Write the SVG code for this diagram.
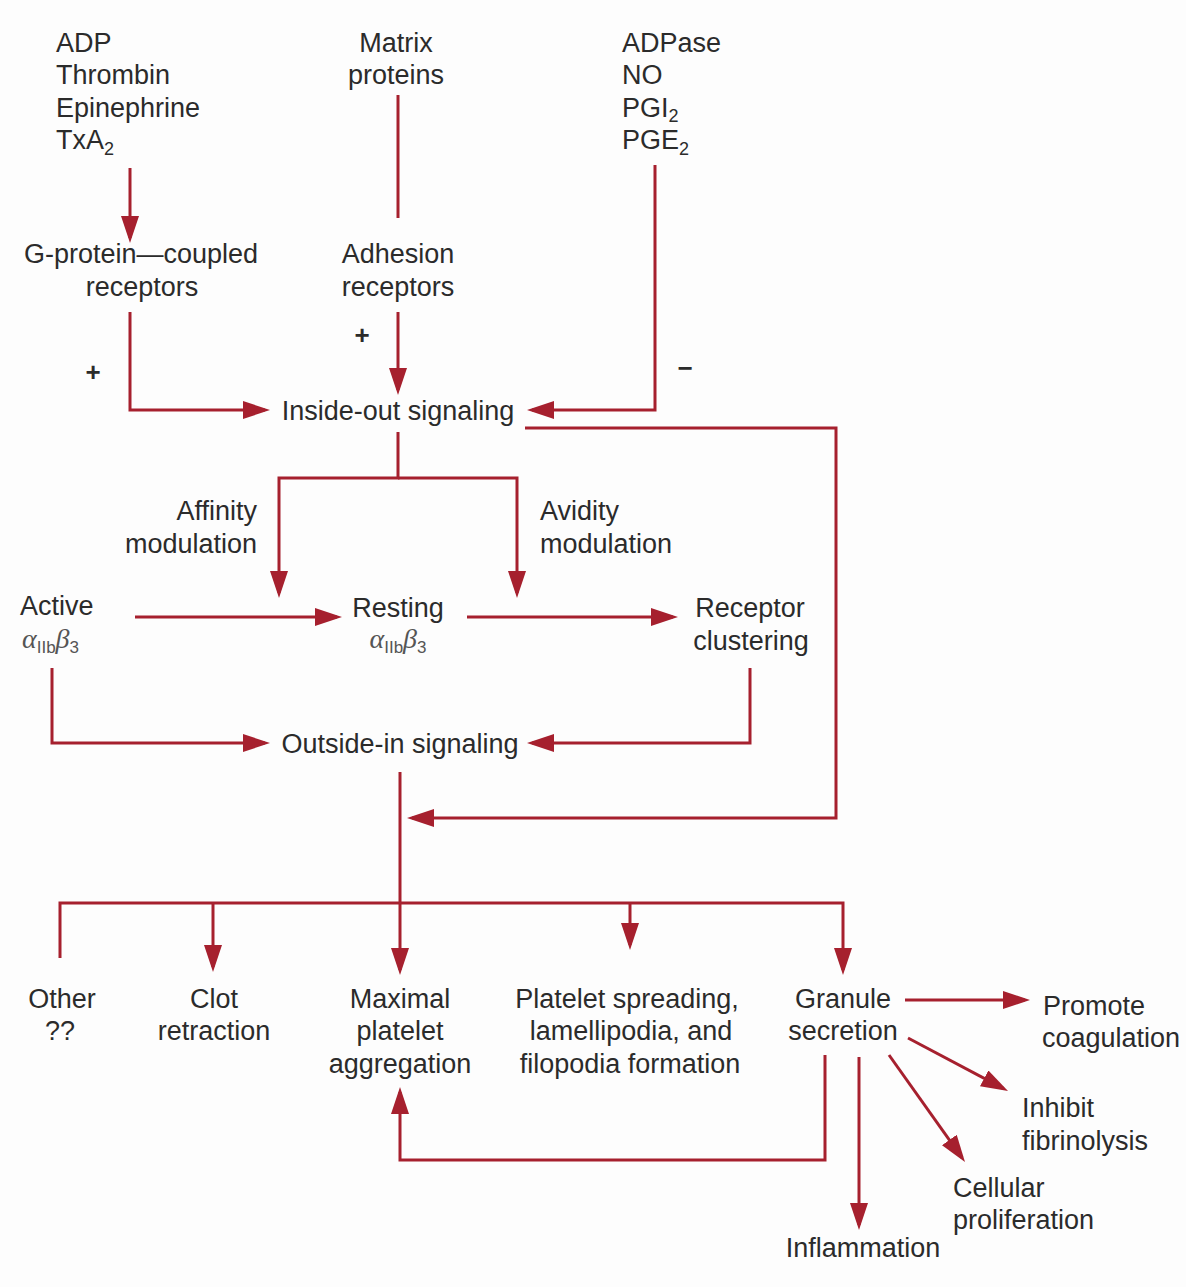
<svg xmlns="http://www.w3.org/2000/svg" width="1186" height="1287" viewBox="0 0 1186 1287">
<style>
  text { font-family: "Liberation Sans", Arial, Helvetica, sans-serif; font-size: 27px; fill: #2b2b2b; }
  .c { text-anchor: middle; }
  .e { text-anchor: end; }
  .sub { font-size: 18px; }
  .sign { font-size: 26px; font-weight: bold; }
  .gk { font-family: "Liberation Serif", "Times New Roman", serif; font-style: italic; font-size: 28px; fill: #555; }
  .gs { font-size: 17px; fill: #555; }
  .ln { fill: none; stroke: #a6202e; stroke-width: 3; }
  .ar { marker-end: url(#ah); }
</style>
<defs>
  <marker id="ah" markerUnits="userSpaceOnUse" markerWidth="27" markerHeight="18" refX="22" refY="9" orient="auto" viewBox="0 0 27 18">
    <path d="M0,0 L27,9 L0,18 z" fill="#a6202e"/>
  </marker>
</defs>
<rect width="1186" height="1287" fill="#fdfdfd"/>

<g id="connectors">
  <path class="ln ar" d="M130,168 V238"/>
  <path class="ln" d="M398,95 V218"/>
  <path class="ln ar" d="M130,312 V410 H265"/>
  <path class="ln ar" d="M398,312 V390"/>
  <path class="ln ar" d="M655,165 V410 H532"/>
  <path class="ln ar" d="M525,428 H836 V818 H412"/>
  <path class="ln ar" d="M398,432 V478 H279 V593"/>
  <path class="ln ar" d="M398,478 H517 V593"/>
  <path class="ln ar" d="M135,617 H337"/>
  <path class="ln ar" d="M467,617 H673"/>
  <path class="ln ar" d="M52,668 V743 H265"/>
  <path class="ln ar" d="M750,668 V743 H532"/>
  <path class="ln ar" d="M400,772 V970"/>
  <path class="ln ar" d="M60,958 V903 H843 V970"/>
  <path class="ln ar" d="M213,903 V967"/>
  <path class="ln ar" d="M630,903 V945"/>
  <path class="ln ar" d="M905,1000 H1025"/>
  <path class="ln ar" d="M908,1038 L1003.6,1088.7"/>
  <path class="ln ar" d="M889,1055 L962.1,1157.9"/>
  <path class="ln ar" d="M859,1057 V1225"/>
  <path class="ln ar" d="M825,1055 V1160 H400 V1092"/>
</g>

<g id="agonists">
  <text x="56" y="52">ADP</text>
  <text x="56" y="84">Thrombin</text>
  <text x="56" y="117">Epinephrine</text>
  <text x="56" y="149">TxA<tspan class="sub" dy="6">2</tspan></text>
</g>
<g id="matrix-proteins">
  <text class="c" x="396" y="52">Matrix</text>
  <text class="c" x="396" y="84">proteins</text>
</g>
<g id="inhibitors">
  <text x="622" y="52">ADPase</text>
  <text x="622" y="84">NO</text>
  <text x="622" y="117">PGI<tspan class="sub" dy="5">2</tspan></text>
  <text x="622" y="149">PGE<tspan class="sub" dy="6">2</tspan></text>
</g>
<g id="gpcr">
  <text class="c" x="141" y="263">G-protein—coupled</text>
  <text class="c" x="142" y="296">receptors</text>
</g>
<g id="adhesion-receptors">
  <text class="c" x="398" y="263">Adhesion</text>
  <text class="c" x="398" y="296">receptors</text>
</g>
<g id="signs">
  <text class="c sign" x="362" y="344">+</text>
  <text class="c sign" x="93" y="381">+</text>
  <text class="c sign" x="685" y="377">−</text>
</g>
<g id="inside-out">
  <text class="c" x="398" y="420">Inside-out signaling</text>
</g>
<g id="affinity">
  <text class="e" x="257" y="520">Affinity</text>
  <text class="e" x="257" y="553">modulation</text>
</g>
<g id="avidity">
  <text x="540" y="520">Avidity</text>
  <text x="540" y="553">modulation</text>
</g>
<g id="active">
  <text x="20" y="615">Active</text>
  <text x="22" y="648"><tspan class="gk">α</tspan><tspan class="gs" dy="5">IIb</tspan><tspan class="gk" dy="-5">β</tspan><tspan class="gs" dy="5">3</tspan></text>
</g>
<g id="resting">
  <text class="c" x="398" y="617">Resting</text>
  <text class="c" x="398" y="648"><tspan class="gk">α</tspan><tspan class="gs" dy="5">IIb</tspan><tspan class="gk" dy="-5">β</tspan><tspan class="gs" dy="5">3</tspan></text>
</g>
<g id="clustering">
  <text class="c" x="750" y="617">Receptor</text>
  <text class="c" x="751" y="650">clustering</text>
</g>
<g id="outside-in">
  <text class="c" x="400" y="753">Outside-in signaling</text>
</g>
<g id="other">
  <text class="c" x="62" y="1008">Other</text>
  <text class="c" x="60" y="1040">??</text>
</g>
<g id="clot">
  <text class="c" x="214" y="1008">Clot</text>
  <text class="c" x="214" y="1040">retraction</text>
</g>
<g id="aggregation">
  <text class="c" x="400" y="1008">Maximal</text>
  <text class="c" x="400" y="1040">platelet</text>
  <text class="c" x="400" y="1073">aggregation</text>
</g>
<g id="spreading">
  <text class="c" x="627" y="1008">Platelet spreading,</text>
  <text class="c" x="631" y="1040">lamellipodia, and</text>
  <text class="c" x="630" y="1073">filopodia formation</text>
</g>
<g id="granule">
  <text class="c" x="843" y="1008">Granule</text>
  <text class="c" x="843" y="1040">secretion</text>
</g>
<g id="coagulation">
  <text x="1043" y="1015">Promote</text>
  <text x="1042" y="1047">coagulation</text>
</g>
<g id="fibrinolysis">
  <text x="1022" y="1117">Inhibit</text>
  <text x="1022" y="1150">fibrinolysis</text>
</g>
<g id="proliferation">
  <text x="953" y="1197">Cellular</text>
  <text x="953" y="1229">proliferation</text>
</g>
<g id="inflammation">
  <text class="c" x="863" y="1257">Inflammation</text>
</g>
</svg>
